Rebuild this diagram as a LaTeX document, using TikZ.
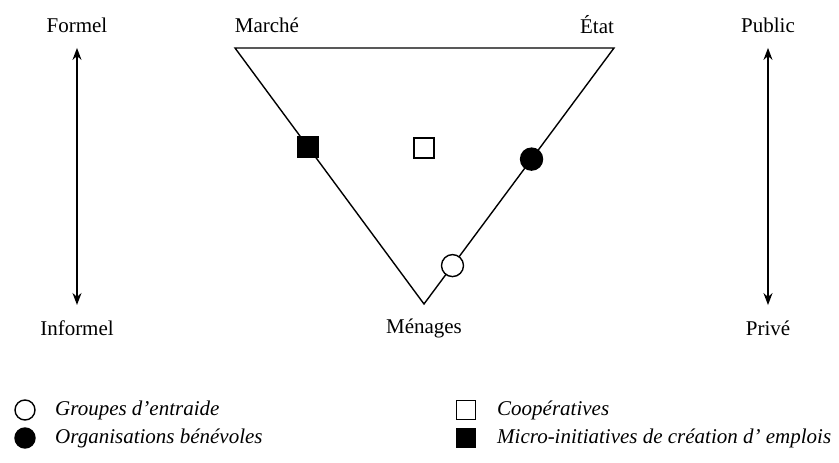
\documentclass[tikz,border=0pt]{standalone}
\usepackage{fontspec}
\setmainfont{Liberation Serif}
\usetikzlibrary{arrows.meta}

\begin{document}
\begin{tikzpicture}[x=1pt, y=-1pt,
        lbl/.style={font=\fontsize{21}{25}\selectfont},
        key/.style={font=\fontsize{21}{25}\selectfont\itshape, anchor=west, inner sep=0pt},
        dot/.style={circle, draw, line width=1.4pt, minimum size=22pt, inner sep=0pt},
        box/.style={rectangle, draw, line width=1.4pt, minimum size=20pt, inner sep=0pt},
        axis/.style={line width=1.4pt, {Stealth[length=12pt,width=9pt]}-{Stealth[length=12pt,width=9pt]}}]
        \useasboundingbox (0,0) rectangle (839,463);
        % triangle
        \coordinate (marche) at (235,48);
        \coordinate (etat) at (614,48);
        \coordinate (menages) at (424,304);
        \draw [line width=1.4pt] (marche) -- (etat) -- (menages) -- cycle;
        \node [lbl] (lmarche) at (267,25) {Marché};
        \node [lbl] (letat) at (597,25) {État};
        \node [lbl] (lmenages) at (424,328) {Ménages};
        % axes
        \node [lbl] (formel) at (77,25) {Formel};
        \node [lbl] (informel) at (77,328) {Informel};
        \node [lbl] (public) at (768,25) {Public};
        \node [lbl] (prive) at (768,328) {Privé};
        \draw [axis, shorten <=12pt, shorten >=12pt] (formel) to (informel);
        \draw [axis, shorten <=12pt, shorten >=12pt] (public) to (prive);
        % organisations
        \path (marche) -- (menages) node [box, fill=black, pos=0.387] (micro) {};
        \path (etat) -- (menages) node [dot, fill=black, pos=0.434] (benevoles) {};
        \path (etat) -- (menages) node [dot, fill=white, pos=0.85] (entraide) {};
        \node [box, fill=white] (coop) at (424,148) {};
        % legende
        \node [dot, minimum size=20pt] (k1) at (25,410) {};
        \node [key] (t1) at (55,410) {Groupes d'entraide};
        \node [dot, fill=black, minimum size=20pt] (k2) at (25,438) {};
        \node [key] (t2) at (55,438) {Organisations bénévoles};
        \node [box, minimum size=19pt] (k3) at (466,410) {};
        \node [key] (t3) at (497,410) {Coopératives};
        \node [box, fill=black, minimum size=19pt] (k4) at (466,438) {};
        \node [key] (t4) at (497,438) {Micro-initiatives de création d' emplois};
    \end{tikzpicture}
\end{document}
